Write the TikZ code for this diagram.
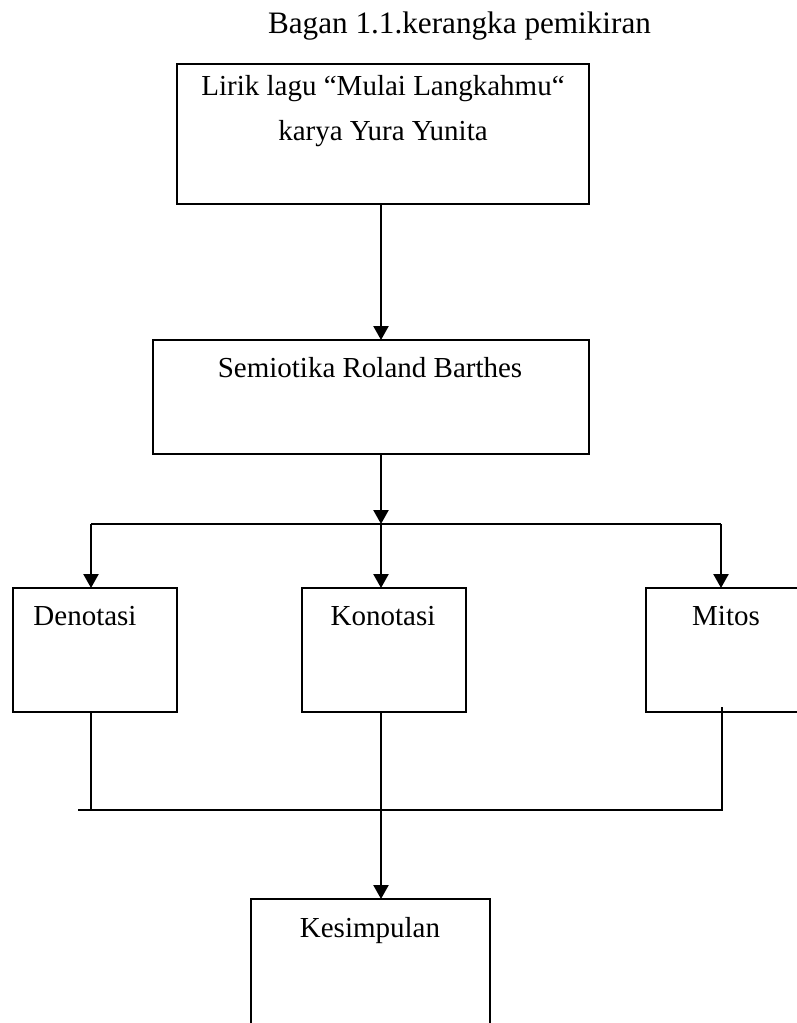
\documentclass[tikz,border=0pt]{standalone}
\usepackage{fontspec}
\setmainfont{Liberation Serif}
\usetikzlibrary{arrows.meta}
\begin{document}
\begin{tikzpicture}[x=0.5pt,y=-0.5pt,
  box/.style={draw=black, line width=1pt, inner sep=0pt, outer sep=0pt},
  lbl/.style={anchor=base, inner sep=0pt, font=\fontsize{14.5}{17}\selectfont},
  ttl/.style={anchor=base, inner sep=0pt, font=\fontsize{15.6}{18}\selectfont},
  conn/.style={line width=1pt},
  arr/.style={line width=1.2pt, -{Triangle[length=7pt,width=7.5pt]}}]
\useasboundingbox (0,0) rectangle (797,1023);
\clip (0,0) rectangle (797,1023);
\fill[white] (0,0) rectangle (797,1023);

% title
\node[ttl] (title) at (459.5,33) {Bagan 1.1.kerangka pemikiran};

% boxes
\node[box, minimum width=206pt, minimum height=70pt] (lirik) at (383,134) {};
\node[box, minimum width=218pt, minimum height=57pt] (semio) at (371,397) {};
\node[box, minimum width=82pt, minimum height=62pt] (deno) at (95,650) {};
\node[box, minimum width=82pt, minimum height=62pt] (kono) at (384,650) {};
\node[box, minimum width=80pt, minimum height=62pt] (mitos) at (726,650) {};
\node[box, minimum width=119.5pt, minimum height=70.5pt] (kesim) at (370.5,969.5) {};

% texts
\node[lbl] (lirikA) at (383,95) {Lirik lagu “Mulai Langkahmu“};
\node[lbl] (lirikB) at (383,140) {karya Yura Yunita};
\node[lbl] (semioT) at (370,377) {Semiotika Roland Barthes};
\node[lbl] (denoT) at (85,625) {Denotasi};
\node[lbl] (konoT) at (383,625) {Konotasi};
\node[lbl] (mitosT) at (726,625) {Mitos};
\node[lbl] (kesimT) at (370,937) {Kesimpulan};

% helper coordinates
\coordinate (stem) at (381,0);
\coordinate (jl) at (91,524);
\coordinate (jc) at (381,524);
\coordinate (jr) at (721,524);
\coordinate (bl) at (78,810);
\coordinate (bd) at (91,810);
\coordinate (br) at (722,810);
\coordinate (mt) at (722,707);

% connectors
\draw[arr] (lirik.south -| stem) -- (semio.north -| stem);
\draw[arr] (semio.south -| stem) -- (jc);
\draw[conn] (jl) -- (jr);
\draw[arr] (jl) -- (jl |- deno.north);
\draw[arr] (jc) -- (jc |- kono.north);
\draw[arr] (jr) -- (jr |- mitos.north);

\draw[conn] (deno.south -| bd) -- (bd);
\draw[conn] (bl) -- (br) -- (mt);
\draw[arr] (kono.south -| stem) -- (kesim.north -| stem);
\end{tikzpicture}
\end{document}
